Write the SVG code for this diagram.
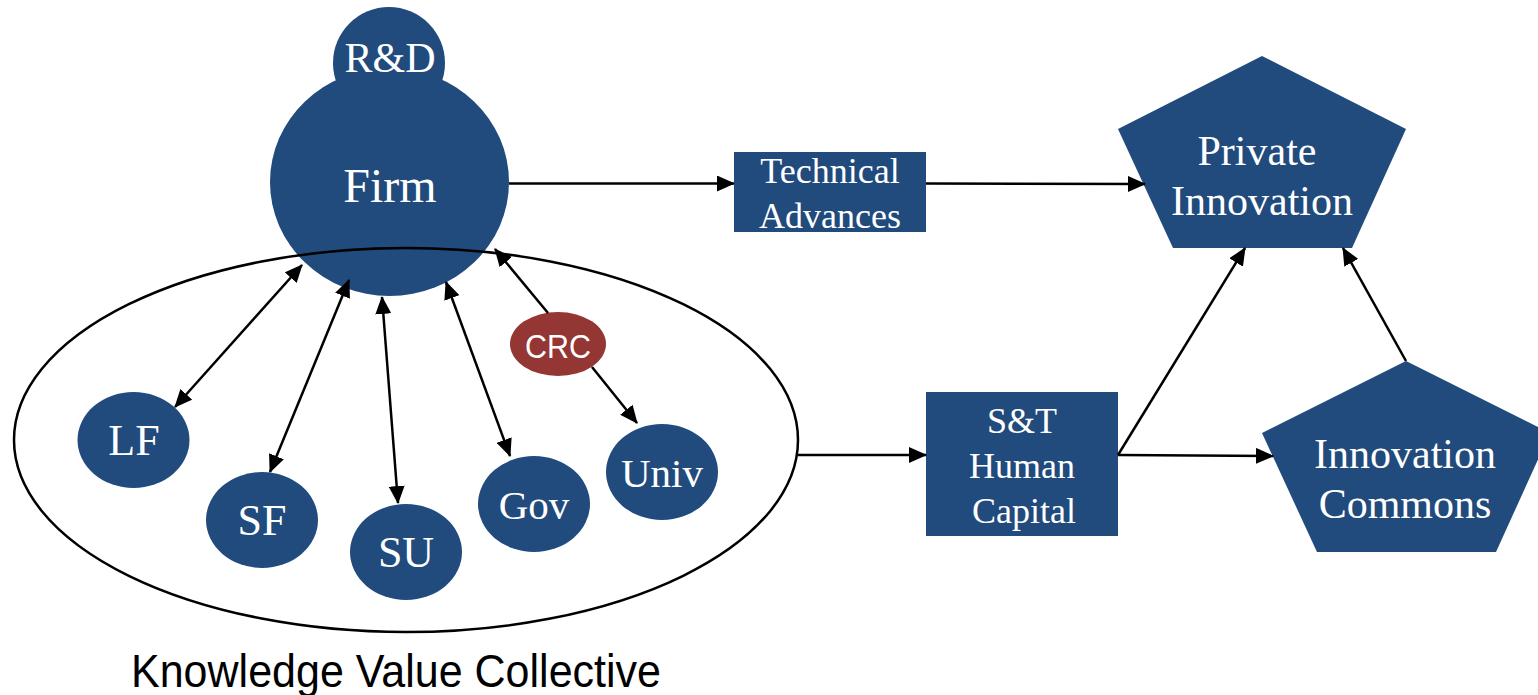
<svg xmlns="http://www.w3.org/2000/svg" width="1538" height="695" viewBox="0 0 1538 695">
<defs>
<style>
.node{fill:#214A7D;}
.crc{fill:#943634;}
.t{font-family:"Liberation Serif","Times New Roman",serif;fill:#fff;text-anchor:middle;}
.s{font-family:"Liberation Sans",Arial,sans-serif;text-anchor:middle;}
.c{stroke:#000;stroke-width:2.5;fill:none;}
.ca{stroke:#000;stroke-width:2.5;fill:none;marker-end:url(#ah);}
.cd{stroke:#000;stroke-width:2.5;fill:none;marker-end:url(#ah);marker-start:url(#ah);}
</style>
<marker id="ah" markerUnits="userSpaceOnUse" markerWidth="18" markerHeight="16" refX="17" refY="8" orient="auto-start-reverse" viewBox="0 0 18 16">
<path d="M0,0 L18,8 L0,16 z" fill="#000"/>
</marker>
</defs>
<g id="firm">
<circle class="node" cx="389" cy="63" r="56"/>
<ellipse class="node" cx="389.5" cy="182" rx="119.5" ry="114"/>
<text class="t" x="390" y="72" font-size="42">R&amp;D</text>
<text class="t" x="390" y="202" font-size="48">Firm</text>
</g>
<g id="kvc">
<ellipse class="c" cx="406" cy="440" rx="392" ry="192"/>
<text class="s" x="396" y="687" font-size="46" fill="#000" textLength="530" lengthAdjust="spacingAndGlyphs">Knowledge Value Collective</text>
</g>
<g id="lf"><ellipse class="node" cx="133.5" cy="440" rx="56" ry="48"/><text class="t" x="134" y="455" font-size="44">LF</text></g>
<g id="sf"><ellipse class="node" cx="262" cy="520" rx="56" ry="48"/><text class="t" x="262" y="535" font-size="44">SF</text></g>
<g id="su"><ellipse class="node" cx="406" cy="552" rx="56" ry="48"/><text class="t" x="406" y="567" font-size="44">SU</text></g>
<g id="gov"><ellipse class="node" cx="534" cy="504" rx="56" ry="48"/><text class="t" x="534" y="519" font-size="41">Gov</text></g>
<g id="univ"><ellipse class="node" cx="662" cy="472" rx="56" ry="48"/><text class="t" x="662" y="487" font-size="41">Univ</text></g>
<g id="crc"><ellipse class="crc" cx="558" cy="344" rx="48" ry="32"/><text class="s" x="558" y="358" font-size="34" fill="#fff" textLength="66" lengthAdjust="spacingAndGlyphs">CRC</text></g>
<g id="tech">
<rect class="node" x="734" y="152" width="192" height="80"/>
<text class="t" x="830" y="183" font-size="36">Technical</text>
<text class="t" x="830" y="228" font-size="36">Advances</text>
</g>
<g id="stc">
<rect class="node" x="926" y="392" width="192" height="144"/>
<text class="t" x="1022" y="433" font-size="36">S&amp;T</text>
<text class="t" x="1022" y="478" font-size="36">Human</text>
<text class="t" x="1024" y="523" font-size="36">Capital</text>
</g>
<g id="private">
<polygon class="node" points="1262,56 1406,129 1352,248 1173,248 1118,129"/>
<text class="t" x="1257" y="165" font-size="42">Private</text>
<text class="t" x="1262" y="215" font-size="42">Innovation</text>
</g>
<g id="commons">
<polygon class="node" points="1406,361 1550,433 1496,552 1317,552 1262,433"/>
<text class="t" x="1405" y="468" font-size="42">Innovation</text>
<text class="t" x="1405" y="518" font-size="42">Commons</text>
</g>
<g id="connectors">
<line class="cd" x1="175" y1="407" x2="302" y2="265"/>
<line class="cd" x1="270" y1="472" x2="349" y2="280"/>
<line class="cd" x1="398" y1="503" x2="382" y2="297"/>
<line class="cd" x1="510" y1="456" x2="446" y2="282"/>
<line class="ca" x1="548" y1="313" x2="495" y2="249"/>
<line class="ca" x1="592" y1="367" x2="637" y2="423"/>
<line class="ca" x1="509" y1="183.5" x2="734" y2="183.5"/>
<line class="ca" x1="926" y1="183.5" x2="1145" y2="184"/>
<line class="ca" x1="798" y1="455" x2="926" y2="455"/>
<line class="ca" x1="1118" y1="455" x2="1245" y2="248"/>
<line class="ca" x1="1118" y1="455" x2="1273" y2="456"/>
<line class="ca" x1="1406" y1="361" x2="1343" y2="248"/>
</g>
</svg>
